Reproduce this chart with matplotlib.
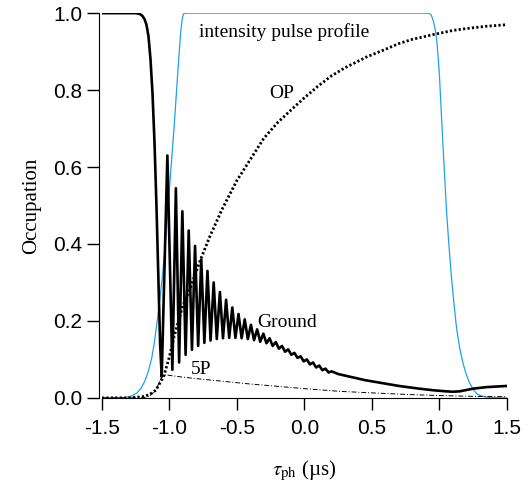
import matplotlib
matplotlib.use("Agg")
import matplotlib.pyplot as plt

plt.rcParams["mathtext.fontset"] = "stix"

# ground state: smooth drop, then oscillation extrema, then smooth tail
ground_head_x = [-1.5, -1.3, -1.25, -1.22, -1.2, -1.185, -1.17, -1.155, -1.14, -1.125, -1.11,
                 -1.095, -1.082, -1.069, -1.057]
ground_head_y = [1.0, 1.0, 1.0, 0.998, 0.993, 0.985, 0.97, 0.94, 0.88, 0.79, 0.66,
                 0.49, 0.315, 0.143, 0.055]
peak_x = [-1.015, -0.952, -0.904, -0.857, -0.810, -0.764, -0.718, -0.672, -0.626, -0.580,
          -0.534, -0.488, -0.442, -0.396, -0.350, -0.304, -0.258, -0.212, -0.166, -0.120,
          -0.074, -0.028, 0.018, 0.064, 0.110, 0.156, 0.202]
peak_y = [0.63, 0.545, 0.485, 0.435, 0.395, 0.36, 0.33, 0.30, 0.275, 0.255,
          0.235, 0.218, 0.204, 0.19, 0.178, 0.167, 0.155, 0.145, 0.135, 0.126,
          0.117, 0.108, 0.100, 0.092, 0.084, 0.076, 0.069]
trough_x = [-0.978, -0.928, -0.880, -0.833, -0.787, -0.741, -0.695, -0.649, -0.603, -0.557,
            -0.511, -0.465, -0.419, -0.373, -0.327, -0.281, -0.235, -0.189, -0.143, -0.097,
            -0.051, -0.005, 0.041, 0.087, 0.133, 0.179]
trough_y = [0.073, 0.092, 0.112, 0.125, 0.135, 0.143, 0.149, 0.153, 0.155, 0.156,
            0.156, 0.155, 0.153, 0.150, 0.146, 0.142, 0.135, 0.128, 0.120, 0.112,
            0.104, 0.095, 0.087, 0.079, 0.072, 0.066]
ground_tail_x = [0.25, 0.35, 0.45, 0.55, 0.7, 0.85, 0.95, 1.05, 1.1, 1.15, 1.25, 1.35, 1.45, 1.5]
ground_tail_y = [0.062, 0.054, 0.046, 0.04, 0.031, 0.024, 0.02, 0.017, 0.016, 0.017, 0.024, 0.028, 0.03, 0.031]

op_x = [-1.5, -1.3, -1.2, -1.15, -1.1, -1.065, -1.04, -1.0, -0.965, -0.9, -0.84, -0.78, -0.7,
        -0.61, -0.5, -0.4, -0.3, -0.2, -0.1, 0.0, 0.1, 0.2, 0.3, 0.46, 0.6, 0.7, 0.8, 0.95,
        1.1, 1.2, 1.35, 1.5]
op_y = [0.0, 0.0, 0.003, 0.008, 0.02, 0.042, 0.058, 0.107, 0.16, 0.24, 0.29, 0.35, 0.42,
        0.49, 0.565, 0.62, 0.675, 0.715, 0.748, 0.78, 0.81, 0.837, 0.858, 0.886, 0.906, 0.921,
        0.932, 0.944, 0.955, 0.96, 0.966, 0.97]

p5_x = [-1.5, -1.2, -1.15, -1.1, -1.07, -1.05, -1.03, -0.95, -0.8, -0.6, -0.4, -0.2, 0.0,
        0.26, 0.5, 0.75, 1.0, 1.25, 1.5]
p5_y = [0.0, 0.0, 0.004, 0.02, 0.045, 0.058, 0.06, 0.056, 0.05, 0.043, 0.036, 0.03, 0.024,
        0.017, 0.013, 0.009, 0.006, 0.004, 0.003]

pulse_x = [-1.5, -1.4, -1.33, -1.28, -1.24, -1.21, -1.18, -1.155, -1.13, -1.11, -1.09, -1.07,
           -1.052, -1.035, -1.02, -0.99, -0.965, -0.94, -0.925, -0.915, -0.905, -0.895, -0.885,
           0.925, 0.94, 0.955, 0.968, 0.98, 0.99, 1.0, 1.013, 1.026, 1.04, 1.052, 1.07, 1.089,
           1.108, 1.126, 1.15, 1.175, 1.2, 1.225, 1.25, 1.28, 1.31, 1.35, 1.4, 1.45, 1.5]
pulse_y = [0.0, 0.0, 0.001, 0.005, 0.013, 0.025, 0.045, 0.07, 0.105, 0.148, 0.2, 0.26,
           0.315, 0.38, 0.45, 0.59, 0.705, 0.835, 0.91, 0.955, 0.985, 0.998, 1.0,
           1.0, 0.995, 0.98, 0.96, 0.93, 0.89, 0.84, 0.75, 0.66, 0.57, 0.49, 0.4, 0.315,
           0.245, 0.185, 0.13, 0.09, 0.06, 0.038, 0.022, 0.01, 0.005, 0.002, 0.0005, 0.0, 0.0]

# merge peaks and troughs in time order
osc = sorted(zip(peak_x + trough_x, peak_y + trough_y))
gx = ground_head_x + [p[0] for p in osc] + ground_tail_x
gy = ground_head_y + [p[1] for p in osc] + ground_tail_y

serif = "Liberation Serif"
sans = "Liberation Sans"

fig = plt.figure(figsize=(5.28, 4.87), dpi=100)
ax = fig.add_axes([0.193, 0.183, 0.767, 0.79])

ax.plot(pulse_x, pulse_y, color="#1aa3ea", lw=0.9)
ax.plot(p5_x, p5_y, color="black", lw=0.7, linestyle=(0, (5, 2, 1, 2)))
ax.plot(op_x, op_y, color="black", lw=2.0, linestyle=(0, (0.8, 0.8)))
ax.plot(gx, gy, color="black", lw=1.9, solid_joinstyle="round")

ax.set_xlim(-1.5, 1.5)
ax.set_ylim(0, 1.0)
ax.spines["top"].set_visible(False)
ax.spines["right"].set_visible(False)
ax.spines["left"].set_position(("outward", 2))
ax.set_xticks([-1.5, -1.0, -0.5, 0.0, 0.5, 1.0, 1.5])
ax.set_xticklabels(["-1.5", "-1.0", "-0.5", "0.0", "0.5", "1.0", "1.5"])
ax.set_yticks([0.0, 0.2, 0.4, 0.6, 0.8, 1.0])
ax.set_yticklabels(["0.0", "0.2", "0.4", "0.6", "0.8", "1.0"])
ax.tick_params(direction="out", length=8.5, width=1, labelsize=15)
ax.tick_params(axis="x", pad=7)
ax.tick_params(axis="y", pad=3.5)
for lab in ax.get_xticklabels() + ax.get_yticklabels():
    lab.set_fontfamily(sans)

ax.set_ylabel("Occupation", fontfamily=serif, fontsize=15, labelpad=9)
ax.set_xlabel(r"$\tau_{\rm ph}$ (µs)", fontfamily=serif, fontsize=15, labelpad=15)

ax.text(-0.78, 0.95, "intensity pulse profile", fontfamily=serif, fontsize=14, va="center")
ax.text(-0.26, 0.792, "OP", fontfamily=serif, fontsize=14, va="center")
ax.text(-0.35, 0.195, "Ground", fontfamily=serif, fontsize=14, va="center")
ax.text(-0.84, 0.073, "5P", fontfamily=serif, fontsize=14, va="center")

fig.savefig("out.png", dpi=100)
